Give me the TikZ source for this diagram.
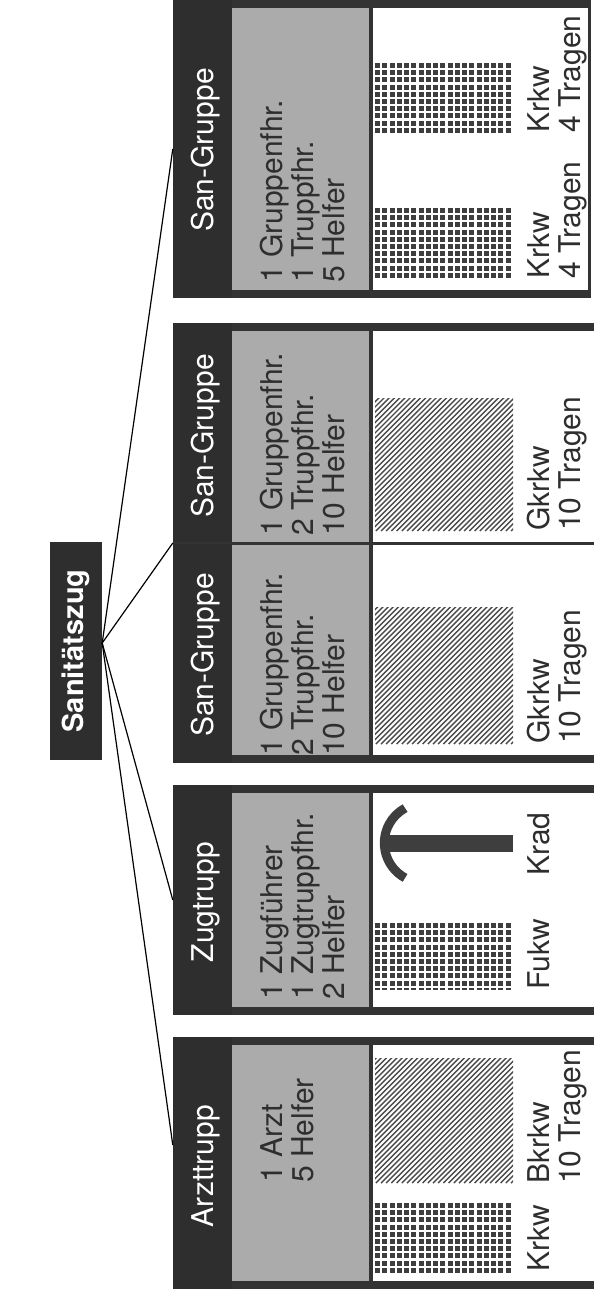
\documentclass[tikz,border=0pt]{standalone}
\usepackage{fontspec}
\setmainfont{TeX Gyre Heros}
\usetikzlibrary{calc}
\definecolor{dk}{HTML}{2E2E2E}
\definecolor{gr}{HTML}{ABABAB}
\definecolor{pat}{HTML}{3E3E3E}
\definecolor{hat}{HTML}{4A4A4A}
\definecolor{bd}{HTML}{333333}
\newcommand{\gridblk}[4]{%
  \begin{scope}
    \clip (#1,#2) rectangle (#3,#4);
    \fill[pat] (#1,#2) rectangle (#3,#4);
    \foreach \k in {1,...,20} {\draw[white,line width=2.2pt] ({#1+\k*7.25-1.1},#2) -- ({#1+\k*7.25-1.1},#4);}
    \foreach \k in {1,...,12} {\draw[white,line width=2.2pt] (#1,{#2+\k*7.2-1.1}) -- (#3,{#2+\k*7.2-1.1});}
  \end{scope}}
\newcommand{\hatchblk}[4]{%
  \begin{scope}
    \clip (#1,#2) rectangle (#3,#4);
    \foreach \k in {0,...,62} {\draw[hat,line width=1.4pt] ({#1-150+\k*5.2},#4) -- ++(160,-160);}
  \end{scope}}
\begin{document}
\begin{tikzpicture}[x=1pt,y=-1pt,
  hdr/.style={fill=dk,draw=none,minimum width=59pt,inner sep=0pt},
  hdrtext/.style={rotate=90,anchor=base,text=white,font=\fontsize{30}{31}\selectfont,inner sep=0pt},
  crew/.style={rotate=90,anchor=north west,align=left,text=dk,font=\fontsize{30}{31}\selectfont,inner sep=0pt},
  veh/.style={crew},
  conn/.style={draw=black,line width=1.2pt}]
\useasboundingbox (0,0) rectangle (594,1289);
\fill[white] (0,0) rectangle (594,1289);
% San-Gruppe (top)
\fill[bd] (173,0) rectangle (591,298);
\fill[gr] (232,8) rectangle (369,290);
\fill[white] (373,8) rectangle (588,290);
% two San-Gruppen
\fill[bd] (173,323) rectangle (594,763);
\fill[gr] (232,331) rectangle (369,755);
\fill[white] (373,331) rectangle (594,755);
\fill[bd] (232,541.5) rectangle (594,544.5);
% Zugtrupp
\fill[bd] (173,785) rectangle (594,1015);
\fill[gr] (232,793) rectangle (369,1007);
\fill[white] (373,793) rectangle (594,1007);
% Arzttrupp
\fill[bd] (173,1037) rectangle (594,1289);
\fill[gr] (232,1045) rectangle (369,1281);
\fill[white] (373,1045) rectangle (594,1281);
% headers
\node[hdr,minimum height=298pt] (h3) at (202.5,149) {};
\node[hdr,minimum height=219pt] (h2) at (202.5,432.5) {};
\node[hdr,minimum height=219pt] (h1) at (202.5,653.5) {};
\node[hdr,minimum height=230pt] (hz) at (202.5,900) {};
\node[hdr,minimum height=252pt] (ha) at (202.5,1163) {};
\coordinate (div) at ($(h2.south west)!0.5!(h1.north west)$);
\node[hdrtext] (t3) at (213,150) {San-Gruppe};
\node[hdrtext] (t2) at (213,436) {San-Gruppe};
\node[hdrtext] (t1) at (213,655) {San-Gruppe};
\node[hdrtext] (tz) at (213,902) {Zugtrupp};
\node[hdrtext] (ta) at (213,1166) {Arzttrupp};
% crew texts
\node[crew] (c3) at (260,283) {1 Gruppenfhr.\\1 Truppfhr.\\5 Helfer};
\node[crew] (c2) at (260,536) {1 Gruppenfhr.\\2 Truppfhr.\\10 Helfer};
\node[crew] (c1) at (260,756) {1 Gruppenfhr.\\2 Truppfhr.\\10 Helfer};
\node[crew] (cz) at (260,1000) {1 Zugführer\\1 Zugtruppfhr.\\2 Helfer};
\node[crew] (ca) at (260,1183) {1 Arzt\\5 Helfer};
% vehicles
\gridblk{375}{63}{513}{135}
\gridblk{375}{208}{513}{278}
\hatchblk{375}{398}{513}{531}
\hatchblk{375}{607}{513}{744}
\gridblk{375}{923}{513}{990}
\hatchblk{375}{1058}{513}{1183}
\gridblk{375}{1203}{513}{1273}
% Krad symbol
\fill[pat] (388,835) rectangle (513,852);
\draw[pat,line width=9pt] (405.1,877.9) arc[start angle=118.5,end angle=241.5,radius=39.7];
% vehicle labels
\node[veh] (v3a) at (527,133) {Krkw\\4 Tragen};
\node[veh] (v3b) at (527,279) {Krkw\\4 Tragen};
\node[veh] (v2) at (527,531) {Gkrkw\\10 Tragen};
\node[veh] (v1) at (527,744) {Gkrkw\\10 Tragen};
\node[veh] (vz1) at (527,990) {Fukw};
\node[veh] (vz2) at (527,876) {Krad};
\node[veh] (va1) at (527,1184) {Bkrkw\\10 Tragen};
\node[veh] (va2) at (527,1272) {Krkw};
% Sanitaetszug
\node[rotate=90,fill=dk,text=white,font=\bfseries\fontsize{29}{30}\selectfont,minimum width=218pt,minimum height=52pt,inner sep=0pt] (san) at (76,651) {Sanitätszug};
\coordinate (hub) at ($(san.south)+(0,-8)$);
\draw[conn] (hub) -- (h3.west);
\draw[conn] (hub) -- (div);
\draw[conn] (hub) -- (hz.west);
\draw[conn] (hub) -- ($(ha.west)+(0,-18)$);
\end{tikzpicture}
\end{document}
